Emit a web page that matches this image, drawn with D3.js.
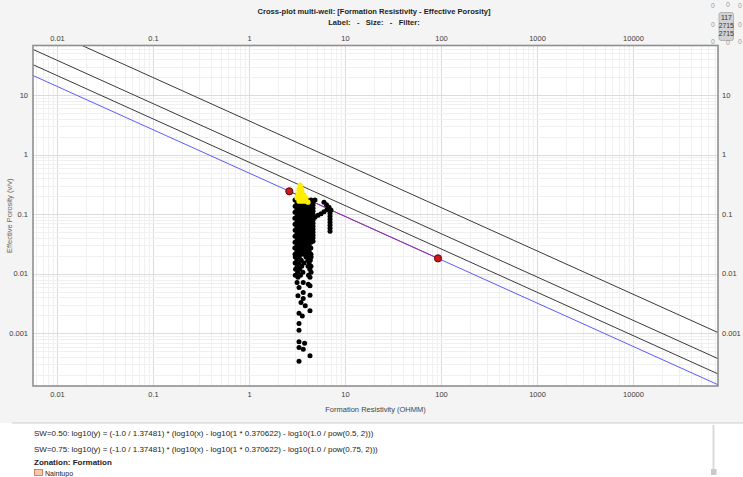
<!DOCTYPE html>
<html>
<head>
<meta charset="utf-8">
<script src="https://cdn.jsdelivr.net/npm/d3@7"></script>
<style>
  html, body { margin: 0; padding: 0; background: #ffffff; }
  svg { display: block; font-family: "Liberation Sans", Arial, sans-serif; }
</style>
</head>
<body>
<svg id="chart" width="743" height="477"></svg>
<script>
// ---------------- data ----------------
const titleLines = [
  "Cross-plot multi-well: [Formation Resistivity - Effective Porosity]",
  "Label:   -   Size:   -   Filter:"
];
const xAxisTitle = "Formation Resistivity (OHMM)";
const yAxisTitle = "Effective Porosity (v/v)";

const xTickValues = [0.01, 0.1, 1, 10, 100, 1000, 10000];
const xTickLabels = ["0.01", "0.1", "1", "10", "100", "1000", "10000"];
const yTickValues = [10, 1, 0.1, 0.01, 0.001];
const yTickLabels = ["10", "1", "0.1", "0.01", "0.001"];

// Archie parameters of the iso-saturation lines
const archieA = 1;
const archieRw = 0.370622;
const archieM = 1.37481;
const archieN = 2;
const swValues = [0.25, 0.5, 0.75, 1.0];

// Fitted segment end points (Rt, PHIE)
const fitPoints = [[2.6, 0.242], [92, 0.0181]];

// Formation Resistivity (OHMM), Effective Porosity (v/v) samples
const blackPoints = [
  [2.98,0.172],[3.28,0.172],[3.61,0.172],[3.97,0.172],[4.37,0.172],
  [3.13,0.153],[3.44,0.153],[3.79,0.153],[4.17,0.153],
  [2.99,0.136],[3.27,0.136],[3.62,0.136],[3.96,0.136],[4.36,0.136],
  [3.12,0.121],[3.45,0.121],[3.78,0.121],[4.18,0.121],
  [2.98,0.108],[3.29,0.108],[3.61,0.108],[3.98,0.108],[4.37,0.108],
  [3.14,0.0962],[3.44,0.0962],[3.80,0.0962],[4.17,0.0962],
  [2.97,0.0857],[3.28,0.0857],[3.60,0.0857],[3.97,0.0857],[4.38,0.0857],
  [3.13,0.0763],[3.43,0.0763],[3.79,0.0763],[4.16,0.0763],
  [2.98,0.068],[3.28,0.068],[3.62,0.068],[3.97,0.068],[4.36,0.068],
  [3.12,0.0605],[3.44,0.0605],[3.79,0.0605],[4.18,0.0605],
  [2.99,0.0539],[3.27,0.0539],[3.61,0.0539],[3.96,0.0539],[4.37,0.0539],
  [3.13,0.048],[3.45,0.048],[3.78,0.048],[4.17,0.048],
  [2.98,0.0427],[3.28,0.0427],[3.60,0.0427],[3.97,0.0427],[4.38,0.0427],
  [3.14,0.038],[3.44,0.038],[3.79,0.038],[4.16,0.038],
  [2.98,0.0339],[3.29,0.0339],[3.61,0.0339],[3.98,0.0339],[4.37,0.0339],
  [3.13,0.0302],[3.43,0.0302],[3.80,0.0302],[4.17,0.0302],
  [2.97,0.0269],[3.28,0.0269],[3.62,0.0269],[3.97,0.0269],[4.36,0.0269],
  [3.12,0.0239],[3.44,0.0239],[3.79,0.0239],[4.18,0.0239],
  [2.98,0.0213],[3.28,0.0213],[3.61,0.0213],[3.97,0.0213],[4.37,0.0213],
  [3.00,0.019],[3.30,0.019],[3.88,0.019],[4.20,0.019],[4.38,0.019],
  [3.12,0.0169],[3.46,0.0169],[4.05,0.0169],[4.30,0.0169],
  [2.99,0.0151],[3.28,0.0151],[3.70,0.0151],[4.18,0.0151],
  [3.14,0.0134],[3.50,0.0134],[4.08,0.0134],[4.37,0.0134],
  [3.02,0.0119],[3.33,0.0119],[4.25,0.0119],
  [3.18,0.0106],[3.60,0.0106],[4.38,0.0106],
  [3.00,0.00947],[3.40,0.00947],[4.12,0.00947],
  [3.20,0.0087],[4.27,0.0087],
  [3.13,0.00714],[3.63,0.00714],[4.10,0.00669],
  [3.28,0.00588],[4.27,0.00626],
  [3.63,0.00485],[3.20,0.00425],[4.27,0.00437],
  [3.63,0.00385],[3.44,0.0033],[3.81,0.00289],
  [4.27,0.00238],[3.28,0.00218],[3.55,0.00196],
  [3.28,0.00146],[3.28,0.00113],
  [3.28,0.00072],[3.75,0.00068],[3.28,0.00058],[3.63,0.00054],
  [4.27,0.00042],[3.28,0.00034],
  [4.81,0.172],
  [4.59,0.159],[4.59,0.1416],[4.59,0.1261],[4.59,0.1123],[4.59,0.1],
  [4.59,0.0891],[4.59,0.0793],[4.59,0.0706],[4.59,0.0629],[4.59,0.056],
  [4.59,0.0499],[4.59,0.0444],[4.59,0.0396],[4.59,0.0352],
  [4.81,0.0891],[5.17,0.0962],[5.56,0.102],[5.97,0.110],[6.41,0.119],
  [5.97,0.159],[6.34,0.144],[6.73,0.131],[7.06,0.117],
  [6.90,0.104],[6.90,0.0926],[6.90,0.0824],[6.90,0.0734],[6.90,0.0654],
  [6.90,0.0582],[6.90,0.0518]
];

const yellowPoints = [
  [3.36,0.307],[3.44,0.273],[3.28,0.263],[3.52,0.243],[3.28,0.234],
  [3.20,0.208],[3.44,0.208],[3.70,0.208],
  [3.13,0.186],[3.36,0.186],[3.61,0.186],[3.88,0.186],
  [3.28,0.165],[3.52,0.165],[3.79,0.165],[4.07,0.159]
];

const legendLines = [
  "SW=0.50: log10(y) = (-1.0 / 1.37481) * (log10(x) - log10(1 * 0.370622) - log10(1.0 / pow(0.5, 2)))",
  "SW=0.75: log10(y) = (-1.0 / 1.37481) * (log10(x) - log10(1 * 0.370622) - log10(1.0 / pow(0.75, 2)))"
];
const zonationTitle = "Zonation: Formation";
const zoneNames = ["Naintupo"];

const counterCenter = ["117", "2715", "2715"];

// ---------------- layout ----------------
const W = 743, H = 477;
const plot = { left: 33, right: 718, top: 45.5, bottom: 386 };

const svg = d3.select("#chart");

// page backgrounds
svg.append("rect").attr("x", 0).attr("y", 0).attr("width", W).attr("height", 423)
  .attr("fill", "#f4f4f4");
svg.append("rect").attr("x", 0).attr("y", 423).attr("width", W).attr("height", H - 423)
  .attr("fill", "#ffffff");
svg.append("line").attr("x1", 12).attr("x2", W).attr("y1", 423).attr("y2", 423)
  .attr("stroke", "#cfcfcf").attr("stroke-width", 1);

// scales
const x = d3.scaleLog().domain([0.00556, 75900]).range([plot.left, plot.right]);
const y = d3.scaleLog().domain([0.0001305, 67.7]).range([plot.bottom, plot.top]);

// plot area
svg.append("rect")
  .attr("x", plot.left).attr("y", plot.top)
  .attr("width", plot.right - plot.left).attr("height", plot.bottom - plot.top)
  .attr("fill", "#ffffff");

svg.append("clipPath").attr("id", "plotClip")
  .append("rect")
  .attr("x", plot.left).attr("y", plot.top)
  .attr("width", plot.right - plot.left).attr("height", plot.bottom - plot.top);

const gGrid = svg.append("g").attr("clip-path", "url(#plotClip)");
const isMajor = v => Math.abs(Math.log10(v) - Math.round(Math.log10(v))) < 1e-9;

gGrid.selectAll("line.vgrid").data(x.ticks()).join("line")
  .attr("class", "vgrid")
  .attr("x1", d => Math.round(x(d)) + 0.5).attr("x2", d => Math.round(x(d)) + 0.5)
  .attr("y1", plot.top).attr("y2", plot.bottom)
  .attr("stroke", d => isMajor(d) ? "#dcdcdc" : "#f0f0f0").attr("stroke-width", 1);

gGrid.selectAll("line.hgrid").data(y.ticks()).join("line")
  .attr("class", "hgrid")
  .attr("y1", d => Math.round(y(d)) + 0.5).attr("y2", d => Math.round(y(d)) + 0.5)
  .attr("x1", plot.left).attr("x2", plot.right)
  .attr("stroke", d => isMajor(d) ? "#dcdcdc" : "#f0f0f0").attr("stroke-width", 1);

// iso-saturation lines (Archie)
const phiFor = (rt, sw) => Math.pow(archieA * archieRw / (rt * Math.pow(sw, archieN)), 1 / archieM);
const gLines = svg.append("g").attr("clip-path", "url(#plotClip)");
const lineGen = d3.line().x(d => x(d[0])).y(d => y(d[1]));
const [xMin, xMax] = x.domain();
swValues.forEach(sw => {
  gLines.append("path")
    .attr("d", lineGen([[xMin, phiFor(xMin, sw)], [xMax, phiFor(xMax, sw)]]))
    .attr("fill", "none")
    .attr("stroke", sw === 1 ? "#5a5aff" : "#3a3a3a")
    .attr("stroke-width", 1);
});

// fitted segment
gLines.append("path")
  .attr("d", lineGen(fitPoints))
  .attr("fill", "none")
  .attr("stroke", "#a02a9a")
  .attr("stroke-width", 1);

// samples
const gPts = svg.append("g").attr("clip-path", "url(#plotClip)");
gPts.selectAll("circle.blk").data(blackPoints).join("circle")
  .attr("class", "blk")
  .attr("cx", d => x(d[0])).attr("cy", d => y(d[1])).attr("r", 2.5)
  .attr("fill", "#000000");
gPts.selectAll("circle.ylw").data(yellowPoints).join("circle")
  .attr("class", "ylw")
  .attr("cx", d => x(d[0])).attr("cy", d => y(d[1])).attr("r", 2.6)
  .attr("fill", "#ffee00");

// fit end points
gPts.selectAll("circle.fit").data(fitPoints).join("circle")
  .attr("class", "fit")
  .attr("cx", d => x(d[0])).attr("cy", d => y(d[1])).attr("r", 3.6)
  .attr("fill", "#d01818").attr("stroke", "#5a0a0a").attr("stroke-width", 1);

// frame
svg.append("rect")
  .attr("x", plot.left).attr("y", plot.top)
  .attr("width", plot.right - plot.left).attr("height", plot.bottom - plot.top)
  .attr("fill", "none").attr("stroke", "#8f8f8f").attr("stroke-width", 1.6);

// tick labels
const tickFont = 7.5, tickColor = "#3a3a3a";
const xLabelG = svg.append("g").attr("font-size", tickFont).attr("fill", tickColor)
  .attr("text-anchor", "middle");
xLabelG.selectAll("text.xb").data(xTickValues).join("text").attr("class", "xb")
  .attr("x", d => x(d)).attr("y", 397).text((d, i) => xTickLabels[i]);
xLabelG.selectAll("text.xt").data(xTickValues).join("text").attr("class", "xt")
  .attr("x", d => x(d)).attr("y", 41).text((d, i) => xTickLabels[i]);

svg.append("g").attr("font-size", tickFont).attr("fill", tickColor).attr("text-anchor", "end")
  .selectAll("text").data(yTickValues).join("text")
  .attr("x", 28).attr("y", d => y(d) + 2.7).text((d, i) => yTickLabels[i]);
svg.append("g").attr("font-size", tickFont).attr("fill", tickColor).attr("text-anchor", "start")
  .selectAll("text").data(yTickValues).join("text")
  .attr("x", 722).attr("y", d => y(d) + 2.7).text((d, i) => yTickLabels[i]);

// axis titles
svg.append("text").attr("x", (plot.left + plot.right) / 2).attr("y", 412)
  .attr("text-anchor", "middle").attr("font-size", 7.5).attr("fill", "#444")
  .text(xAxisTitle);
svg.append("text")
  .attr("transform", `translate(12,${(plot.top + plot.bottom) / 2}) rotate(-90)`)
  .attr("text-anchor", "middle").attr("font-size", 7.5).attr("fill", "#7a5f5f")
  .text(yAxisTitle);

// title
svg.append("g").attr("font-weight", "bold").attr("font-size", 7.6).attr("fill", "#1e1e1e")
  .attr("text-anchor", "middle")
  .selectAll("text").data(titleLines).join("text")
  .attr("x", 374).attr("y", (d, i) => 14 + i * 11)
  .style("white-space", "pre")
  .text(d => d);

// counter box (top right)
svg.append("rect").attr("x", 719).attr("y", 12.5).attr("width", 14.5).attr("height", 28)
  .attr("rx", 2).attr("fill", "#d2d2d2").attr("stroke", "#a8a8a8").attr("stroke-width", 0.8);
svg.append("g").attr("font-size", 6.8).attr("fill", "#333").attr("text-anchor", "middle")
  .selectAll("text").data(counterCenter).join("text")
  .attr("x", 726.3).attr("y", (d, i) => 19.5 + i * 8).text(d => d);
const counterZeros = [[713, 8], [728, 7], [740, 8], [713, 27], [740, 27], [713, 44], [728, 45], [740, 44]];
svg.append("g").attr("font-size", 6.8).attr("fill", "#9a9a9a").attr("text-anchor", "middle")
  .selectAll("text").data(counterZeros).join("text")
  .attr("x", d => d[0]).attr("y", d => d[1]).text("0");

// legend
const legG = svg.append("g").attr("font-size", 8).attr("fill", "#222");
legG.selectAll("text.eq").data(legendLines).join("text").attr("class", "eq")
  .attr("x", 34).attr("y", (d, i) => 436 + i * 16).text(d => d);
legG.append("text").attr("x", 34).attr("y", 465).attr("font-weight", "bold")
  .text(zonationTitle);
zoneNames.forEach((name, i) => {
  legG.append("rect").attr("x", 34.5).attr("y", 469.5 + i * 10).attr("width", 8).attr("height", 6)
    .attr("fill", "#f6c8ae").attr("stroke", "#c07050").attr("stroke-width", 0.8);
  legG.append("text").attr("x", 45).attr("y", 475.5 + i * 10).attr("font-size", 7)
    .text(name);
});

// scroll bar in the legend panel
svg.append("line").attr("x1", 713.5).attr("x2", 713.5).attr("y1", 425).attr("y2", 469)
  .attr("stroke", "#dadada").attr("stroke-width", 2);
svg.append("rect").attr("x", 711).attr("y", 469).attr("width", 5.5).attr("height", 6)
  .attr("fill", "#cacaca");
</script>
</body>
</html>
